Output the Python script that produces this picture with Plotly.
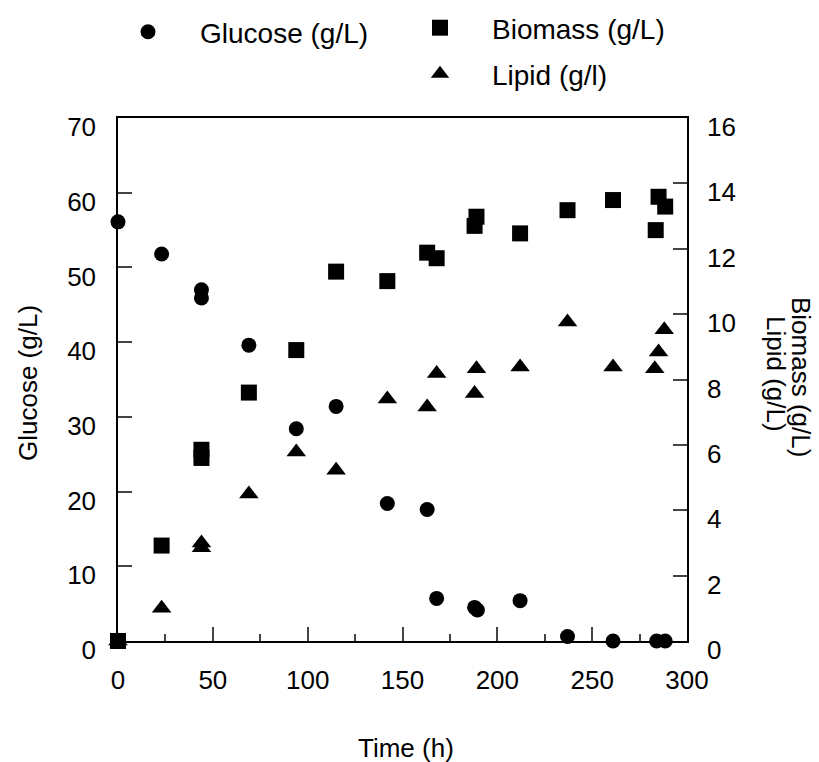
import plotly.graph_objects as go

# ---- data ----
time_glucose = [0, 23, 44, 44, 69, 94, 115, 142, 163, 168, 188, 189.5, 212, 237, 261, 284, 288.5]
glucose = [56.1, 51.8, 47.0, 45.9, 39.6, 28.4, 31.4, 18.4, 17.6, 5.7, 4.5, 4.15, 5.4, 0.6, 0, 0, 0]

time_biomass = [0, 23, 44, 44, 69, 94, 115, 142, 163, 168, 188, 189, 212, 237, 261, 283.5, 285, 288.5]
biomass = [0, 2.92, 5.85, 5.6, 7.6, 8.9, 11.3, 11.01, 11.88, 11.71, 12.7, 12.98, 12.47, 13.18, 13.49, 12.57, 13.59, 13.29]

time_lipid = [0, 23, 44, 44, 69, 94, 115, 142, 163, 168, 188, 189, 212, 237, 261, 283, 285, 288]
lipid = [0, 1.0, 3.0, 2.85, 4.5, 5.78, 5.22, 7.4, 7.16, 8.18, 7.57, 8.33, 8.38, 9.76, 8.38, 8.33, 8.84, 9.52]

x_ticks = [0, 50, 100, 150, 200, 250, 300]
glucose_ticks = [0, 10, 20, 30, 40, 50, 60, 70]
right_ticks = [0, 2, 4, 6, 8, 10, 12, 14, 16]

FONT = "Liberation Sans, Arial, sans-serif"
FS = 26
LFS = 28

fig = go.Figure()
fig.add_trace(go.Scatter(
    x=time_glucose, y=glucose, mode="markers", name="Glucose (g/L)",
    marker=dict(symbol="circle", size=15, color="black", line=dict(width=0)),
    cliponaxis=False, legend="legend", showlegend=True))
fig.add_trace(go.Scatter(
    x=time_biomass, y=biomass, mode="markers", name="Biomass (g/L)", yaxis="y2",
    marker=dict(symbol="square", size=16, color="black", line=dict(width=0)),
    cliponaxis=False, legend="legend2", showlegend=True))
fig.add_trace(go.Scatter(
    x=time_lipid, y=lipid, mode="markers", name="Lipid (g/l)", yaxis="y2",
    marker=dict(symbol="triangle-up", size=17, color="black", line=dict(width=0)),
    cliponaxis=False, legend="legend3", showlegend=True))

IW = 94
SYM_OFF = IW / 2 + 5
leg_common = dict(xref="container", yref="container", xanchor="left", yanchor="middle",
                  font=dict(family=FONT, size=LFS, color="black"),
                  bgcolor="rgba(0,0,0,0)", borderwidth=0, itemwidth=IW)

W, H = 819, 762
fig.update_layout(
    width=W, height=H,
    showlegend=True,
    margin=dict(l=118, r=132, t=118, b=121, autoexpand=False),
    paper_bgcolor="white", plot_bgcolor="white",
    font=dict(family=FONT, size=FS, color="black"),
    legend=dict(x=(148 - SYM_OFF) / W, y=1 - 32 / H, **leg_common),
    legend2=dict(x=(440 - SYM_OFF) / W, y=1 - 28 / H, **leg_common),
    legend3=dict(x=(440 - SYM_OFF) / W, y=1 - 74 / H, **leg_common),
    xaxis=dict(range=[0, 300], tickvals=x_ticks, ticks="inside", ticklen=14, tickwidth=1.5,
               tickcolor="#444", showline=True, linecolor="black", linewidth=1.5, mirror=True,
               showgrid=False, zeroline=False, ticklabelstandoff=15, automargin=False,
               minor=dict(dtick=25, tick0=0, ticks="inside", ticklen=7, tickwidth=1.5, tickcolor="#444", showgrid=False),
               tickfont=dict(family=FONT, size=FS, color="black")),
    yaxis=dict(range=[0, 70], tickvals=glucose_ticks, ticks="inside", ticklen=14, tickwidth=1.5,
               tickcolor="#444", showline=True, linecolor="black", linewidth=1.5,
               showgrid=False, zeroline=False, ticklabelstandoff=15, ticklabelshift=9, automargin=False,
               tickfont=dict(family=FONT, size=FS, color="black")),
    yaxis2=dict(range=[0, 16], tickvals=right_ticks, overlaying="y", side="right",
                ticks="inside", ticklen=14, tickwidth=1.5, tickcolor="#444",
                showline=True, linecolor="black", linewidth=1.5, automargin=False,
                showgrid=False, zeroline=False, ticklabelstandoff=13, ticklabelshift=9,
                tickfont=dict(family=FONT, size=FS, color="black")),
)

pw, ph = 569.0, 523.0
def px(xp):
    return (xp - 118) / pw
def py(yp):
    return (641 - yp) / ph

ann_font = dict(family=FONT, size=FS, color="black")
fig.add_annotation(text="Time (h)", x=px(406), y=py(748), xref="paper", yref="paper",
                   showarrow=False, xanchor="center", yanchor="middle", font=ann_font)
fig.add_annotation(text="Glucose (g/L)", x=px(28), y=py(383), xref="paper", yref="paper",
                   showarrow=False, xanchor="center", yanchor="middle", textangle=-90, font=ann_font)
fig.add_annotation(text="Biomass (g/L)", x=px(801), y=py(377), xref="paper", yref="paper",
                   showarrow=False, xanchor="center", yanchor="middle", textangle=90, font=ann_font)
fig.add_annotation(text="Lipid (g/L)", x=px(776), y=py(374), xref="paper", yref="paper",
                   showarrow=False, xanchor="center", yanchor="middle", textangle=90, font=ann_font)

fig.write_html("out.html")
